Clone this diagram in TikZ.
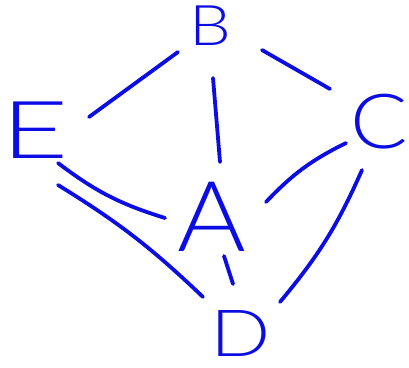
\documentclass[tikz,border=0pt]{standalone}
\usepackage{graphicx}
\usepackage{fontspec}
\newfontfamily\lbl{Lato Light}
\definecolor{ink}{RGB}{12,12,228}
\tikzset{
  lbl/.style={text=ink, inner sep=0pt},
  edge/.style={draw=ink, line width=3.8pt, line cap=round}
}
\begin{document}
\begin{tikzpicture}[x=1pt,y=-1pt]
\useasboundingbox (0,0) rectangle (409,367);
\node[lbl, font=\lbl\fontsize{56}{56}\selectfont] (B) at (210,26) {\scalebox{1.18}[1]{B}};
\node[lbl, font=\lbl\fontsize{80}{80}\selectfont] (E) at (35,130) {\scalebox{1.45}[1]{E}};
\node[lbl, font=\lbl\fontsize{76}{76}\selectfont] (C) at (379,122) {\scalebox{1.12}[1]{C}};
\node[lbl, font=\lbl\fontsize{98}{98}\selectfont] (A) at (212,217) {\scalebox{1.07}[1]{A}};
\node[lbl, font=\lbl\fontsize{65}{65}\selectfont] (D) at (241,333) {\scalebox{1.22}[1]{D}};
\draw[edge] ([shift={(54,-13)}]E.center) -- ([shift={(-32,26)}]B.center);
\draw[edge] ([shift={(52,24)}]B.center) -- ([shift={(-49,-33)}]C.center);
\draw[edge] ([shift={(3,52)}]B.center) -- ([shift={(8,-55)}]A.center);
\draw[edge] ([shift={(-33,21)}]C.center) to[bend right=10] ([shift={(54,-15)}]A.center);
\draw[edge] ([shift={(23,33)}]E.center) to[bend right=10] ([shift={(-47,1)}]A.center);
\draw[edge] ([shift={(23,55)}]E.center) to[bend left=6] ([shift={(-38,-36)}]D.center);
\draw[edge] ([shift={(12,39)}]A.center) -- ([shift={(-8,-49)}]D.center);
\draw[edge] ([shift={(-17,48)}]C.center) to[bend left=8] ([shift={(39,-31)}]D.center);
\end{tikzpicture}
\end{document}
